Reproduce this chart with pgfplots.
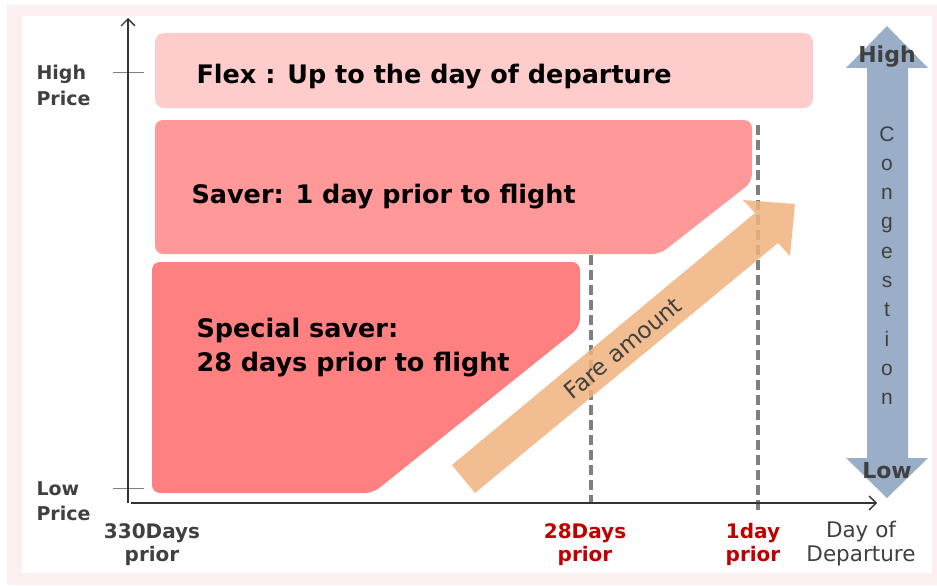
\documentclass[border=0pt]{standalone}
\usepackage{pgfplots}
\pgfplotsset{compat=1.18}
\usepackage{fontspec}
\setmainfont{DejaVu Sans}
\newfontfamily\arialf{Liberation Sans}
\usetikzlibrary{arrows.meta}
\definecolor{framepink}{HTML}{FCEFF0}
\definecolor{flexc}{HTML}{FFCCCC}
\definecolor{saverc}{HTML}{FF9999}
\definecolor{specialc}{HTML}{FF8080}
\definecolor{orangec}{HTML}{F0B27E}
\definecolor{bluec}{HTML}{9AAEC8}
\definecolor{dashc}{HTML}{7F7F7F}
\definecolor{redt}{HTML}{C00000}
\definecolor{grayt}{HTML}{404040}
\definecolor{axisc}{HTML}{333333}
\begin{document}
\begin{tikzpicture}
\begin{axis}[
  scale only axis, width=937pt, height=586pt,
  xmin=0, xmax=937, ymin=0, ymax=586, y dir=reverse,
  axis lines=none, ticks=none, clip=false]
% background and frame
\addplot[fill=white, draw=none] coordinates {(0,0)(937,0)(937,586)(0,586)};
\addplot[fill=framepink, draw=none] coordinates {(7,5)(937,5)(937,585)(7,585)};
\addplot[fill=white, draw=none] coordinates {(22,16)(932,16)(932,573)(22,573)};
% ticks
\addplot[dashc, line width=1pt] coordinates {(113,73)(144,73)};
\addplot[dashc, line width=1pt] coordinates {(113,488)(144,488)};
% fare boxes
\addplot[fill=flexc, draw=none, rounded corners=9pt] coordinates {(155,70)(155,33)(813,33)(813,108)(155,108)(155,70)};
\addplot[fill=saverc, draw=none, rounded corners=8pt] coordinates {(155,190)(155,120)(752,120)(752,182)(660,254)(155,254)(155,190)};
\addplot[fill=specialc, draw=none, rounded corners=8pt] coordinates {(152,380)(152,262)(580,262)(580,327)(373,493)(152,493)(152,380)};
% dashed lines
\addplot[dashc, line width=4pt, dash pattern=on 10pt off 5pt] coordinates {(591,255)(591,503)};
\addplot[dashc, line width=4pt, dash pattern=on 10pt off 5pt] coordinates {(758,125)(758,510)};
% fare amount arrow
\addplot[fill=orangec, draw=none, fill opacity=0.85] coordinates {(452,465)(755,213)(743,200)(795,204)(790,256)(778,243)(475,493)(452,465)};
% congestion arrow
\addplot[fill=bluec, draw=none] coordinates {(887,26)(928,68)(908,68)(908,458)(928,458)(887,498)(846,458)(867,458)(867,68)(846,68)(887,26)};
% axes
\addplot[axisc, line width=1.4pt, -{Straight Barb[length=7pt,width=14pt]}] coordinates {(128,503)(128,18)};
\addplot[axisc, line width=1.4pt, -{Straight Barb[length=7pt,width=14pt]}] coordinates {(131,503)(877,503)};
% texts
\node[anchor=base west, font=\fontsize{25.5}{30}\selectfont\bfseries] at (axis cs:193,83) {Flex : Up to the day of departure};
\node[anchor=base west, font=\fontsize{25.5}{30}\selectfont\bfseries] at (axis cs:188,203) {Saver: 1 day prior to flight};
\node[anchor=base west, font=\fontsize{25.5}{30}\selectfont\bfseries] at (axis cs:193,337) {Special saver:};
\node[anchor=base west, font=\fontsize{25.5}{30}\selectfont\bfseries] at (axis cs:193,371) {28 days prior to flight};
\node[rotate=39.6, text=grayt, font=\fontsize{23}{27}\selectfont] at (axis cs:623,348) {Fare amount};
\node[anchor=base west, text=grayt, font=\fontsize{19}{23}\selectfont\bfseries] at (axis cs:33,80) {High};
\node[anchor=base west, text=grayt, font=\fontsize{19}{23}\selectfont\bfseries] at (axis cs:33,106) {Price};
\node[anchor=base west, text=grayt, font=\fontsize{19}{23}\selectfont\bfseries] at (axis cs:33,495) {Low};
\node[anchor=base west, text=grayt, font=\fontsize{19}{23}\selectfont\bfseries] at (axis cs:33,520) {Price};
\node[anchor=base, text=grayt, font=\fontsize{20}{24}\selectfont\bfseries] at (axis cs:152,538) {330Days};
\node[anchor=base, text=grayt, font=\fontsize{20}{24}\selectfont\bfseries] at (axis cs:152,561) {prior};
\node[anchor=base, text=redt, font=\fontsize{20}{24}\selectfont\bfseries] at (axis cs:585,538) {28Days};
\node[anchor=base, text=redt, font=\fontsize{20}{24}\selectfont\bfseries] at (axis cs:585,561) {prior};
\node[anchor=base, text=redt, font=\fontsize{20}{24}\selectfont\bfseries] at (axis cs:753,538) {1day};
\node[anchor=base, text=redt, font=\fontsize{20}{24}\selectfont\bfseries] at (axis cs:753,561) {prior};
\node[anchor=base, text=grayt, font=\fontsize{21.5}{25}\selectfont] at (axis cs:861,537) {Day of};
\node[anchor=base, text=grayt, font=\fontsize{21.5}{25}\selectfont] at (axis cs:861,561) {Departure};
\node[anchor=base, text=grayt, font=\fontsize{22}{26}\selectfont\bfseries] at (axis cs:887,63) {High};
\node[anchor=base, text=grayt, font=\fontsize{22}{26}\selectfont\bfseries] at (axis cs:887,478) {Low};
\node[anchor=base, text=grayt, font=\arialf\fontsize{21}{25}\selectfont] at (axis cs:887,141) {C};
\node[anchor=base, text=grayt, font=\arialf\fontsize{21}{25}\selectfont] at (axis cs:887,170.3) {o};
\node[anchor=base, text=grayt, font=\arialf\fontsize{21}{25}\selectfont] at (axis cs:887,199.6) {n};
\node[anchor=base, text=grayt, font=\arialf\fontsize{21}{25}\selectfont] at (axis cs:887,228.9) {g};
\node[anchor=base, text=grayt, font=\arialf\fontsize{21}{25}\selectfont] at (axis cs:887,258.2) {e};
\node[anchor=base, text=grayt, font=\arialf\fontsize{21}{25}\selectfont] at (axis cs:887,287.5) {s};
\node[anchor=base, text=grayt, font=\arialf\fontsize{21}{25}\selectfont] at (axis cs:887,316.8) {t};
\node[anchor=base, text=grayt, font=\arialf\fontsize{21}{25}\selectfont] at (axis cs:887,346.1) {i};
\node[anchor=base, text=grayt, font=\arialf\fontsize{21}{25}\selectfont] at (axis cs:887,375.4) {o};
\node[anchor=base, text=grayt, font=\arialf\fontsize{21}{25}\selectfont] at (axis cs:887,404.7) {n};
\end{axis}
\end{tikzpicture}
\end{document}
